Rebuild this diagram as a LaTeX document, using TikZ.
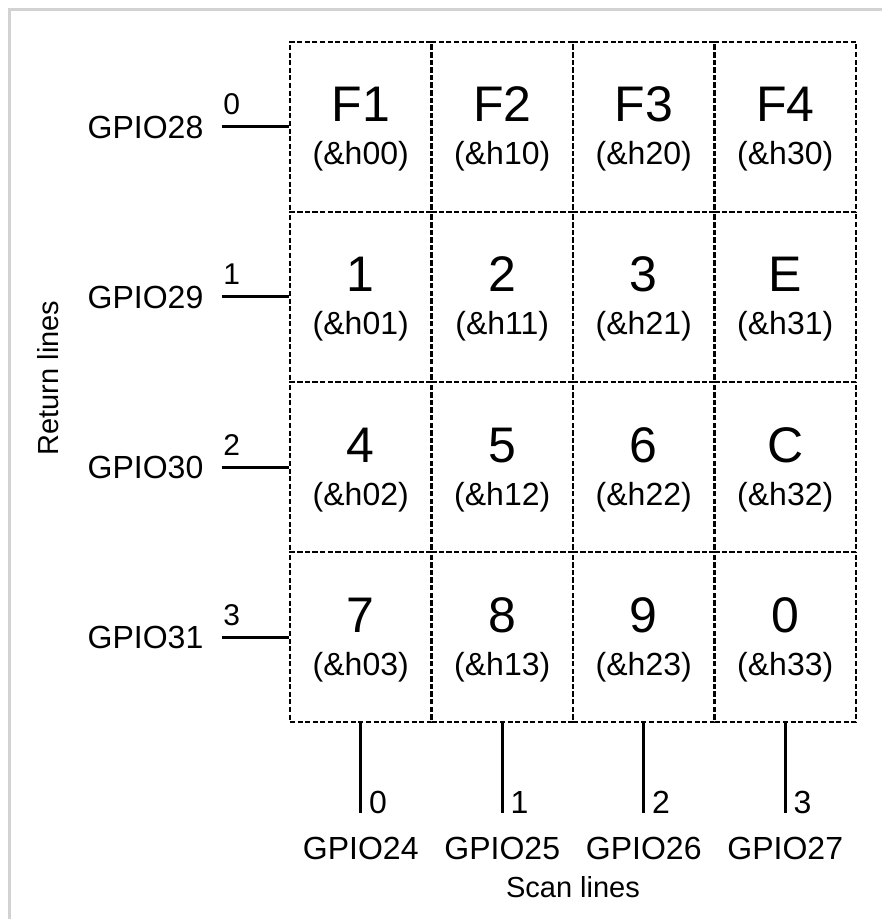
\documentclass[tikz,border=0pt]{standalone}
\usepackage{fontspec}
\setmainfont{Liberation Sans}
\usetikzlibrary{positioning}

\begin{document}
\begin{tikzpicture}[x=0.5pt,y=-0.5pt,
    keycell/.style={draw, dash pattern=on 2.5pt off 1.3pt, line width=1.3pt,
      minimum width=70.75pt, minimum height=85pt, inner sep=0pt},
    keyname/.style={font=\fontsize{25}{30}\selectfont, anchor=base, inner sep=0pt},
    keycode/.style={font=\fontsize{16}{19}\selectfont, anchor=base, inner sep=0pt},
    gpio/.style={font=\fontsize{16}{19}\selectfont, inner sep=0pt},
    retnum/.style={font=\fontsize{15}{18}\selectfont, anchor=base, inner sep=0pt},
    scannum/.style={font=\fontsize{16}{19}\selectfont, anchor=base west, inner sep=0pt},
    axislabel/.style={font=\fontsize{14.5}{17}\selectfont, anchor=base, inner sep=0pt},
    wire/.style={line width=1.5pt}]
    \useasboundingbox (0,0) rectangle (882,919);
    % Frame
    \draw[gray!35, line width=1.5pt] (9,919) -- (9,10) -- (882,10);
    % Key matrix
    \foreach \r/\keys in {0/{F1,F2,F3,F4}, 1/{1,2,3,E}, 2/{4,5,6,C}, 3/{7,8,9,0}} {
      \foreach \k [count=\c from 0] in \keys {
        \node[keycell] (cell\c\r) at (360.75+141.5*\c, 127+170*\r) {};
        \node[keyname] at ([yshift=2.5pt]cell\c\r.center) {\k};
        \node[keycode] at ([yshift=-19pt]cell\c\r.center) {(\&h\c\r)};
      }
    }
    % Return lines
    \foreach \r/\gp in {0/28, 1/29, 2/30, 3/31} {
      \coordinate (rend\r) at ([xshift=-33.5pt]cell0\r.west);
      \draw[wire] (rend\r) -- (cell0\r.west);
      \node[retnum] at ([shift={(5pt,6pt)}]rend\r) {\r};
      \node[gpio, left=9pt of rend\r] {GPIO\gp};
    }
    % Scan lines
    \foreach \c/\gp in {0/24, 1/25, 2/26, 3/27} {
      \coordinate (send\c) at ([yshift=-45pt]cell\c3.south);
      \draw[wire] (cell\c3.south) -- (send\c);
      \node[scannum] at ([xshift=4pt]send\c) {\c};
      \node[gpio, anchor=base] at ([yshift=-23pt]send\c) {GPIO\gp};
    }
    % Axis labels
    \node[axislabel] (scanlbl) at (573,897) {Scan lines};
    \node[axislabel, rotate=90] (retlbl) at (58,378) {Return lines};
  \end{tikzpicture}
\end{document}
